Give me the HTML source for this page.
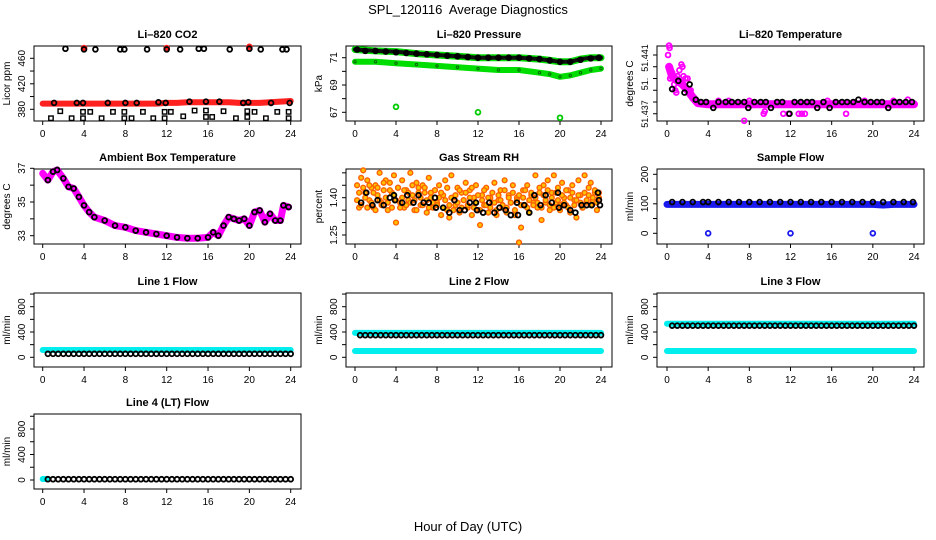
<!DOCTYPE html>
<html><head><meta charset="utf-8"><style>
html,body{margin:0;padding:0;background:#fff;}
svg{display:block;font-family:"Liberation Sans",Arial,sans-serif;}
</style></head><body>
<svg id="chart" width="936" height="540" viewBox="0 0 936 540" xmlns="http://www.w3.org/2000/svg">
<text x="468" y="14" text-anchor="middle" font-size="13">SPL_120116&#160; Average Diagnostics</text>
<text x="468" y="531" text-anchor="middle" font-size="13">Hour of Day (UTC)</text>
</svg>
<script>
// ---------- data ----------
const xTicks = [0,4,8,12,16,20,24];
// CO2
const co2BandHours = [0,1,2,3,4,5,6,7,8,9,10,11,12,13,14,15,16,17,18,19,20,21,22,23,24];
const co2BandVals = [389,389,389,389,389,389,389,389,389,389,389,389,390,390,391,391,391,391,391,390,390,390,391,392,393];
const co2MidHours = [1.1,3.3,3.9,6.3,8,9.1,11.2,11.9,14.2,15.8,17.1,19.4,19.9,22.1,23.9];
const co2MidVals = [390,390,390,390,390,390,391,390,392,392,392,390,391,390,390];
const co2HighHours = [2.2,4,5.1,7.5,7.9,10.1,12,13.3,15.1,15.6,18.1,20,21.1,23.2,23.6];
const co2HighVals = [475,474,474,474,474,474,474,474,475,475,474,475,474,474,474];
const co2RedHours = [4,12,20];
const co2RedVals = [476,476,478];
const co2LowHours = [0.8,1.7,2.8,3.9,3.9,4.6,5.7,6.8,7.9,7.9,8.6,9.7,10.7,11.8,11.8,12.4,13.6,14.7,15.8,15.8,16.4,17.5,18.7,19.8,19.8,20.5,21.6,22.7,23.8,23.8];
const co2LowVals = [366,377,366,366,376,376,366,376,366,376,366,376,366,366,376,376,369,378,368,378,368,377,366,368,377,376,366,376,366,376];
const co2Ticks = [380,400,420,440,460];
const co2Labels = ["380","420","460"];
// Pressure
const presBandHours = [0,2,4,6,8,10,12,14,16,18,19,20,21,22,23,24];
const presBlackBand = [71.6,71.5,71.45,71.3,71.2,71.1,71.0,71.0,71.0,70.9,70.8,70.7,70.7,70.9,71.0,71.0];
const presGreenBand = [70.7,70.7,70.6,70.5,70.4,70.3,70.2,70.1,70.1,69.9,69.8,69.6,69.7,69.9,70.1,70.2];
const presCircHours = [0.2,1,2,3,4,5,6,7,8,9,10,11,12,13,14,15,16,17,18,19,20,21,22,23,23.8];
const presCircVals = [71.6,71.5,71.5,71.45,71.4,71.35,71.3,71.25,71.2,71.15,71.1,71.05,71.0,71.0,71.0,71.0,71.0,70.95,70.9,70.8,70.7,70.7,70.85,70.95,71.0];
const presOutHours = [4,12,20];
const presOutVals = [67.4,67.0,66.6];
const presTicks = [67,68,69,70,71];
const presLabels = ["67","69","71"];
// Li-820 temperature
const tempBandHours = [0.2,0.5,1,1.5,2,2.5,3,4,8,12,16,20,24];
const tempBandVals = [51.4400,51.4392,51.4388,51.4385,51.4380,51.4374,51.4369,51.4368,51.4368,51.4368,51.4368,51.4368,51.4368];
const tempPinkHours = [0.1,0.2,0.25,0.3,0.5,0.7,0.9,1.2,1.4,1.6,1.8,2.0,2.3,7.5,9.4,9.5,11.3,11.8,12.8,13.1,13.4,17.4,23.4,1.5,1.0,0.8,5.0,6.0,8.0,15.6,19.2,22.0];
const tempPinkVals = [51.4410,51.4418,51.4416,51.4390,51.4395,51.4385,51.4378,51.4397,51.4402,51.4392,51.4390,51.4390,51.4380,51.4354,51.4360,51.4362,51.4360,51.4360,51.4360,51.4360,51.4360,51.4360,51.4372,51.4400,51.4392,51.4380,51.4371,51.4371,51.4371,51.4371,51.4371,51.4371];
const tempBlackHours = [0.5,1.1,1.7,2.2,2.8,3.3,3.8,4.5,5.0,5.7,6.3,6.9,7.5,7.9,8.5,9.1,9.6,10.1,10.7,11.2,11.9,12.4,13.0,13.6,14.1,14.6,15.2,15.8,16.4,17.0,17.5,18.1,18.6,19.2,19.8,20.4,20.9,21.5,22.1,22.6,23.2,23.8];
const tempBlackVals = [51.4381,51.4388,51.4378,51.4385,51.4372,51.4370,51.4370,51.4365,51.4370,51.4370,51.4370,51.4370,51.4370,51.4365,51.4370,51.4370,51.4370,51.4365,51.4370,51.4370,51.4360,51.4370,51.4370,51.4370,51.4370,51.4365,51.4370,51.4365,51.4370,51.4370,51.4370,51.4370,51.4372,51.4370,51.4370,51.4370,51.4370,51.4365,51.4370,51.4370,51.4370,51.4370];
const tempTicks = [51.441,51.440,51.439,51.438,51.437,51.436];
// Ambient box temperature
const ambHours = [0,0.5,1,1.4,2,2.5,3,3.5,4,4.5,5,6,7,8,9,10,11,12,13,14,15,16,16.5,17,17.5,18,18.5,19,19.5,20,20.5,21,21.5,22,22.5,23,23.3,23.8];
const ambVals = [36.7,36.3,36.8,36.9,36.4,35.9,35.8,35.3,34.8,34.4,34.1,33.9,33.6,33.5,33.3,33.2,33.1,33.0,32.9,32.85,32.85,32.9,33.2,33.0,33.6,34.1,34.0,33.9,34.0,33.6,34.4,34.5,33.8,34.3,33.9,33.9,34.8,34.7];
const ambTicks = [33,34,35,36,37];
const ambLabels = ["33","35","37"];
// Gas stream RH
const rhHours = [0.2,0.4,0.6,0.8,1.0,1.2,1.4,1.6,1.8,2.0,2.2,2.4,2.6,2.8,3.0,3.2,3.4,3.6,3.8,4.0,4.2,4.4,4.6,4.8,5.0,5.2,5.4,5.6,5.8,6.0,6.2,6.4,6.6,6.8,7.0,7.2,7.4,7.6,7.8,8.0,8.2,8.4,8.6,8.8,9.0,9.2,9.4,9.6,9.8,10.0,10.2,10.4,10.6,10.8,11.0,11.2,11.4,11.6,11.8,12.0,12.2,12.4,12.6,12.8,13.0,13.2,13.4,13.6,13.8,14.0,14.2,14.4,14.6,14.8,15.0,15.2,15.4,15.6,15.8,16.0,16.2,16.4,16.6,16.8,17.0,17.2,17.4,17.6,17.8,18.0,18.2,18.4,18.6,18.8,19.0,19.2,19.4,19.6,19.8,20.0,20.2,20.4,20.6,20.8,21.0,21.2,21.4,21.6,21.8,22.0,22.2,22.4,22.6,22.8,23.0,23.2,23.4,23.6,23.8];
const rhValsA = [1.45,1.36,1.48,1.51,1.42,1.47,1.39,1.44,1.36,1.45,1.41,1.50,1.38,1.43,1.47,1.35,1.46,1.42,1.49,1.30,1.44,1.38,1.47,1.36,1.43,1.39,1.50,1.41,1.35,1.46,1.44,1.37,1.45,1.42,1.34,1.48,1.40,1.36,1.43,1.38,1.45,1.33,1.41,1.47,1.35,1.32,1.49,1.40,1.37,1.44,1.34,1.42,1.39,1.46,1.36,1.43,1.33,1.40,1.45,1.35,1.29,1.41,1.37,1.44,1.34,1.40,1.38,1.46,1.33,1.39,1.43,1.36,1.47,1.34,1.41,1.38,1.45,1.33,1.40,1.22,1.28,1.43,1.37,1.45,1.34,1.41,1.38,1.49,1.36,1.42,1.31,1.45,1.38,1.47,1.35,1.42,1.49,1.38,1.44,1.35,1.46,1.40,1.37,1.43,1.34,1.45,1.39,1.32,1.47,1.41,1.36,1.49,1.38,1.44,1.46,1.39,1.42,1.35,1.40];
const rhValsB = [1.39,1.42,1.37,1.44,1.40,1.36,1.45,1.38,1.42,1.35,1.44,1.39,1.37,1.46,1.40,1.38,1.43,1.36,1.41,1.39,1.44,1.36,1.40,1.43,1.37,1.42,1.38,1.45,1.39,1.35,1.42,1.40,1.37,1.44,1.39,1.36,1.42,1.38,1.43,1.37,1.40,1.42,1.36,1.39,1.44,1.37,1.40,1.35,1.41,1.38,1.43,1.36,1.39,1.42,1.37,1.40,1.44,1.36,1.38,1.41,1.35,1.39,1.43,1.37,1.40,1.36,1.42,1.38,1.35,1.41,1.39,1.37,1.43,1.36,1.40,1.38,1.42,1.35,1.39,1.41,1.37,1.40,1.43,1.36,1.39,1.42,1.37,1.40,1.38,1.44,1.36,1.41,1.39,1.43,1.37,1.40,1.36,1.42,1.39,1.37,1.41,1.38,1.43,1.36,1.40,1.42,1.37,1.39,1.41,1.38,1.36,1.42,1.39,1.41,1.37,1.40,1.43,1.38,1.42];
const rhBlackHours = [0.6,1.1,1.7,2.2,2.8,3.4,3.8,3.9,4.6,5.1,5.7,6.2,6.7,7.2,7.8,7.9,8.6,9.2,9.7,10.2,10.7,11.2,11.8,11.9,12.5,13.1,13.6,14.1,14.7,15.2,15.8,15.9,16.5,17.0,17.5,18.1,18.6,19.2,19.8,19.9,20.4,21.0,21.5,22.1,22.6,23.1,23.7,23.8,23.9];
const rhBlackVals = [1.38,1.42,1.37,1.39,1.37,1.40,1.41,1.39,1.38,1.41,1.38,1.41,1.38,1.38,1.40,1.36,1.36,1.34,1.39,1.35,1.35,1.38,1.38,1.35,1.34,1.38,1.34,1.36,1.35,1.33,1.38,1.33,1.37,1.34,1.41,1.37,1.41,1.38,1.42,1.36,1.37,1.35,1.34,1.37,1.37,1.37,1.42,1.39,1.37];
const rhTicks = [1.25,1.30,1.35,1.40,1.45,1.50];
const rhLabels = ["1.25","1.40"];
// Sample flow
const sfBandHours = [0,4,8,12,16,20,21,22,24];
const sfBandVals = [98,98,98,98,98,98,96,98,98];
const sfCircHours = [0.5,1.5,2.5,3.5,4.0,5,6,7,8,9,10,11,12,13,14,15,16,17,18,19,20,21,22,23,23.9];
const sfCircVals = [106,106,106,106,106,106,106,106,106,106,106,106,106,106,106,106,106,106,106,106,106,106,106,106,106];
const sfOutHours = [4,12,20];
const sfOutVals = [0,0,0];
const flowTicks = [0,50,100,150,200];
const flowLabels = ["0","100","200"];
// Line flows
const lineBandHours = [0,6,12,18,24];
const line1Cyan = [115,115,115,115,115];
const line2CyanHigh = [385,385,385,385,385];
const line2CyanLow = [100,100,100,100,100];
const line3CyanHigh = [530,530,530,530,530];
const line3CyanLow = [100,100,100,100,100];
const line4CyanHours = [0,0.5];
const line4Cyan = [15,15];
const lineCircHours = [0.5,1.0,1.5,2.0,2.5,3.0,3.5,4.0,4.5,5.0,5.5,6.0,6.5,7.0,7.5,8.0,8.5,9.0,9.5,10.0,10.5,11.0,11.5,12.0,12.5,13.0,13.5,14.0,14.5,15.0,15.5,16.0,16.5,17.0,17.5,18.0,18.5,19.0,19.5,20.0,20.5,21.0,21.5,22.0,22.5,23.0,23.5,24.0];
const line1Vals = lineCircHours.map(() => 55);
const line2Vals = lineCircHours.map(() => 350);
const line3Vals = lineCircHours.map(() => 500);
const line4Vals = lineCircHours.map(() => 12);
const lineTicks = [0,200,400,600,800,1000];
const lineLabels = ["0","400","800"];

// ---------- drawing ----------
const svg = document.getElementById('chart');
const NS = 'http://www.w3.org/2000/svg';
const cols = [{L:34,R:301,x0:42.7,x24:290.7},{L:346,R:612,x0:355,x24:601},{L:657,R:924,x0:667,x24:914}];
const rows = [{T:46,B:121},{T:169,B:244},{T:293,B:367},{T:414,B:489}];

function mk(tag, attrs, parent) {
  const el = document.createElementNS(NS, tag);
  for (const k in attrs) el.setAttribute(k, attrs[k]);
  (parent || svg).appendChild(el);
  return el;
}

function panel(name, title, ylab, c, r, yv1, yp1, yv2, yp2, ticks, labels, labelPos, labelSize) {
  const col = cols[c], row = rows[r];
  const g = mk('g', {});
  
  
  const xs = h => col.x0 + h * (col.x24 - col.x0) / 24;
  const ys = v => yp1 + (v - yv1) * (yp2 - yp1) / (yv2 - yv1);
  const box = mk('rect', {x:col.L, y:row.T, width:col.R-col.L, height:row.B-row.T, fill:'none', stroke:'#000', 'stroke-width':1}, g);
  
  
  const t = mk('text', {x:(col.L+col.R)/2, y:row.T-8, 'text-anchor':'middle', 'font-size':11, 'font-weight':'bold'}, g);
  t.textContent = title;
  
  
  const xa = mk('g', {}, g);
  
  
  mk('line', {x1:xs(0), x2:xs(24), y1:row.B, y2:row.B, stroke:'#000'}, xa);
  xTicks.forEach(h => {
    mk('line', {x1:xs(h), x2:xs(h), y1:row.B, y2:row.B+4, stroke:'#000'}, xa);
    const lt = mk('text', {x:xs(h), y:row.B+16, 'text-anchor':'middle', 'font-size':10}, xa);
    lt.textContent = h;
  });
  const ya = mk('g', {}, g);
  
  
  const tp = ticks.map(ys);
  mk('line', {x1:col.L, x2:col.L, y1:Math.min(...tp), y2:Math.max(...tp), stroke:'#000'}, ya);
  tp.forEach(p => mk('line', {x1:col.L-4, x2:col.L, y1:p, y2:p, stroke:'#000'}, ya));
  labels.forEach((lab, i) => {
    const p = labelPos ? labelPos[i] : ys(parseFloat(lab));
    const lt = mk('text', {x:col.L-9, y:p, 'text-anchor':'middle', 'font-size':labelSize || 10, transform:`rotate(-90 ${col.L-9} ${p})`}, ya);
    lt.textContent = lab;
  });
  const yl = mk('text', {x:col.L-24, y:(row.T+row.B)/2, 'text-anchor':'middle', 'font-size':10, transform:`rotate(-90 ${col.L-24} ${(row.T+row.B)/2})`}, g);
  yl.textContent = ylab;
  
  
  return {g, xs, ys};
}

function band(p, name, hours, vals, color, w) {
  const pts = hours.map((h, i) => p.xs(h).toFixed(1) + ',' + p.ys(vals[i]).toFixed(1)).join(' ');
  const pl = mk('polyline', {points:pts, fill:'none', stroke:color, 'stroke-width':w, 'stroke-linecap':'round', 'stroke-linejoin':'round'}, p.g);
  
  
}
function pts(p, name, hours, vals, color, opts) {
  const o = opts || {};
  const gg = mk('g', {}, p.g);
  
  
  hours.forEach((h, i) => {
    if (o.square) {
      mk('rect', {x:p.xs(h)-2.2, y:p.ys(vals[i])-2.2, width:4.4, height:4.4, fill:'none', stroke:color, 'stroke-width':1.4}, gg);
    } else {
      mk('circle', {cx:p.xs(h), cy:p.ys(vals[i]), r:o.r || 2.4, fill:o.fill || 'none', stroke:color, 'stroke-width':o.sw || 1.8}, gg);
    }
  });
}

// CO2
let p = panel('panel-co2', 'Li\u2013820 CO2', 'Licor ppm', 0, 0, 380, 109.3, 460, 58.3, co2Ticks, co2Labels);
band(p, 'co2-band', co2BandHours, co2BandVals, '#ff2020', 6);
pts(p, 'co2-low-points', co2LowHours, co2LowVals, '#000', {square:true});
pts(p, 'co2-red-points', co2RedHours, co2RedVals, '#ff2020', {fill:'#ff2020'});
pts(p, 'co2-mid-points', co2MidHours, co2MidVals, '#000');
pts(p, 'co2-high-points', co2HighHours, co2HighVals, '#000');

// Pressure
p = panel('panel-pressure', 'Li\u2013820 Pressure', 'kPa', 1, 0, 71, 57.7, 67, 112.3, presTicks, presLabels);
band(p, 'pressure-black-band', presBandHours, presBlackBand, '#00dd00', 7);
band(p, 'pressure-green-band', presBandHours, presGreenBand, '#00dd00', 6);
band(p, 'pressure-black-core', presBandHours, presBlackBand, '#111', 4);
pts(p, 'pressure-green-core', presBandHours, presGreenBand, '#0a6a0a', {r:1.2, sw:1});
pts(p, 'pressure-circles', presCircHours, presCircVals, '#000', {fill:'#000'});
pts(p, 'pressure-outliers', presOutHours, presOutVals, '#00cc00');

// Li-820 temperature
p = panel('panel-li820-temp', 'Li\u2013820 Temperature', 'degrees C', 2, 0, 51.441, 55, 51.437, 102, tempTicks, ["51.441","51.","51.437"], [58,84,114], 9);
band(p, 'temp-band', tempBandHours, tempBandVals, '#ff00ff', 8);
pts(p, 'temp-pink-points', tempPinkHours, tempPinkVals, '#ff00ff');
pts(p, 'temp-black-points', tempBlackHours, tempBlackVals, '#000');

// Ambient
p = panel('panel-ambient-temp', 'Ambient Box Temperature', 'degrees C', 0, 1, 37, 168.3, 33, 235.7, ambTicks, ambLabels);
band(p, 'ambient-band', ambHours, ambVals, '#ff00ff', 7);
pts(p, 'ambient-points', ambHours.slice(1), ambVals.slice(1), '#000');

// RH
p = panel('panel-gas-rh', 'Gas Stream RH', 'percent', 1, 1, 1.40, 197.7, 1.25, 235, rhTicks, rhLabels);
pts(p, 'rh-points-a', rhHours, rhValsA, '#ff6000', {fill:'#ffc000', sw:1.4});
pts(p, 'rh-points-b', rhHours, rhValsB, '#ff6000', {fill:'#ffc000', sw:1.4});
pts(p, 'rh-black-points', rhBlackHours, rhBlackVals, '#000');

// Sample flow
p = panel('panel-sample-flow', 'Sample Flow', 'ml/min', 2, 1, 200, 174.3, 0, 233.3, flowTicks, flowLabels);
band(p, 'sample-flow-band', sfBandHours, sfBandVals, '#1a1aee', 7);
pts(p, 'sample-flow-points', sfCircHours, sfCircVals, '#000');
pts(p, 'sample-flow-outliers', sfOutHours, sfOutVals, '#1a1aee');

// Line flows
p = panel('panel-line1-flow', 'Line 1 Flow', 'ml/min', 0, 2, 0, 357.3, 800, 306.7, lineTicks, lineLabels);
band(p, 'line1-cyan-band', lineBandHours, line1Cyan, '#00eeee', 6);
pts(p, 'line1-points', lineCircHours, line1Vals, '#000');

p = panel('panel-line2-flow', 'Line 2 Flow', 'ml/min', 1, 2, 0, 357.3, 800, 306.7, lineTicks, lineLabels);
band(p, 'line2-cyan-high', lineBandHours, line2CyanHigh, '#00eeee', 6);
band(p, 'line2-cyan-low', lineBandHours, line2CyanLow, '#00eeee', 6);
pts(p, 'line2-points', lineCircHours, line2Vals, '#000');

p = panel('panel-line3-flow', 'Line 3 Flow', 'ml/min', 2, 2, 0, 357.3, 800, 306.7, lineTicks, lineLabels);
band(p, 'line3-cyan-high', lineBandHours, line3CyanHigh, '#00eeee', 6);
band(p, 'line3-cyan-low', lineBandHours, line3CyanLow, '#00eeee', 6);
pts(p, 'line3-points', lineCircHours, line3Vals, '#000');

p = panel('panel-line4-flow', 'Line 4 (LT) Flow', 'ml/min', 0, 3, 0, 480, 800, 429, lineTicks, lineLabels);
band(p, 'line4-cyan-band', line4CyanHours, line4Cyan, '#00eeee', 6);
pts(p, 'line4-points', lineCircHours, line4Vals, '#000');
</script>
</body></html>
